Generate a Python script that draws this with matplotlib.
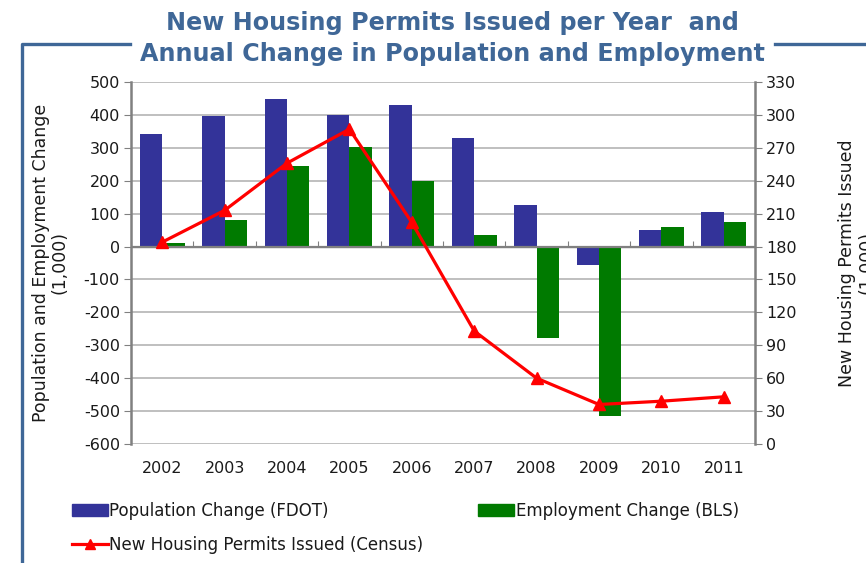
import numpy as np
import matplotlib.pyplot as plt
from matplotlib.lines import Line2D
from matplotlib.patches import Patch

plt.rcParams['axes.unicode_minus'] = False

years = ['2002', '2003', '2004', '2005', '2006', '2007', '2008', '2009', '2010', '2011']
population = [343, 397, 447, 401, 431, 331, 125, -57, 49, 104]
employment = [10, 82, 246, 301, 200, 36, -277, -515, 58, 76]
permits = [184, 213, 256, 287, 202, 103, 60, 36, 39, 43]

blue = '#333399'
green = '#007a00'
red = '#ff0000'
frame_col = '#3f6797'
grid_col = '#b4b4b4'
txt = '#1a1a1a'

fig = plt.figure(figsize=(8.66, 5.63), dpi=100)
ax = fig.add_axes([0.1513, 0.2114, 0.7205, 0.643])
x = np.arange(len(years))
w = 0.36
ax.bar(x - w / 2, population, w, color=blue, zorder=2)
ax.bar(x + w / 2, employment, w, color=green, zorder=2)
ax.set_xlim(-0.5, len(years) - 0.5)
ax.set_ylim(-600, 500)
ax.set_yticks(range(-600, 501, 100))
ax.yaxis.grid(True, color=grid_col, lw=1.2, zorder=0)
ax.axhline(0, color='#808080', lw=1.6, zorder=3)
ax.set_xticks(x)
ax.set_xticklabels(years)
ax.tick_params(axis='x', length=0, pad=12, labelsize=11.5, labelcolor=txt)
ax.tick_params(axis='y', length=5, color='#808080', labelsize=11.5, labelcolor=txt, pad=3)
for s in ['top', 'bottom']:
    ax.spines[s].set_visible(False)
for s in ['left', 'right']:
    ax.spines[s].set_color('#808080')
    ax.spines[s].set_linewidth(1.8)
ax.set_ylabel('Population and Employment Change\n(1,000)', fontsize=12.5,
              linespacing=1.05, labelpad=11, color=txt)

# tick marks along the zero line between categories
zx = ax.secondary_xaxis(600 / 1100)
zx.set_xticks(np.arange(0, len(years) + 1) - 0.5)
zx.set_xticklabels([])
zx.tick_params(length=4, color='#808080', direction='out')
zx.spines['bottom'].set_visible(False)

ax2 = ax.twinx()
ax2.plot(x, permits, color=red, lw=2.3, marker='^', ms=8, zorder=5)
ax2.set_ylim(0, 330)
ax2.set_yticks(range(0, 331, 30))
ax2.tick_params(axis='y', length=5, color='#808080', labelsize=11.5, labelcolor=txt, pad=3)
for s in ax2.spines.values():
    s.set_visible(False)
ax2.set_ylabel('New Housing Permits Issued\n(1,000)', fontsize=12.5, labelpad=30,
               linespacing=1.05, color=txt)
ax.set_zorder(ax2.get_zorder() - 1)
ax2.patch.set_visible(False)

fig.text(0.523, 0.98, 'New Housing Permits Issued per Year  and\nAnnual Change in Population and Employment',
         ha='center', va='top', fontsize=17.2, fontweight='bold', color=frame_col,
         linespacing=1.38)

fig.add_artist(Line2D([0.025, 0.025, 0.15], [0.0, 0.922, 0.922], color=frame_col, lw=2.4))
fig.add_artist(Line2D([0.895, 1.0], [0.922, 0.922], color=frame_col, lw=2.4))

h1 = Patch(color=blue)
h2 = Patch(color=green)
h3 = Line2D([], [], color=red, lw=2.3, marker='^', ms=7)
leg_kw = dict(frameon=False, fontsize=12, handlelength=2.15, handletextpad=0.1,
              borderpad=0, borderaxespad=0, loc='center left', labelcolor=txt)
fig.legend([h1], ['Population Change (FDOT)'], bbox_to_anchor=(0.083, 0.0924), **leg_kw)
fig.legend([h2], ['Employment Change (BLS)'], bbox_to_anchor=(0.552, 0.0924), **leg_kw)
fig.legend([h3], ['New Housing Permits Issued (Census)'], bbox_to_anchor=(0.083, 0.032), **leg_kw)

fig.savefig('out.png', dpi=100)
